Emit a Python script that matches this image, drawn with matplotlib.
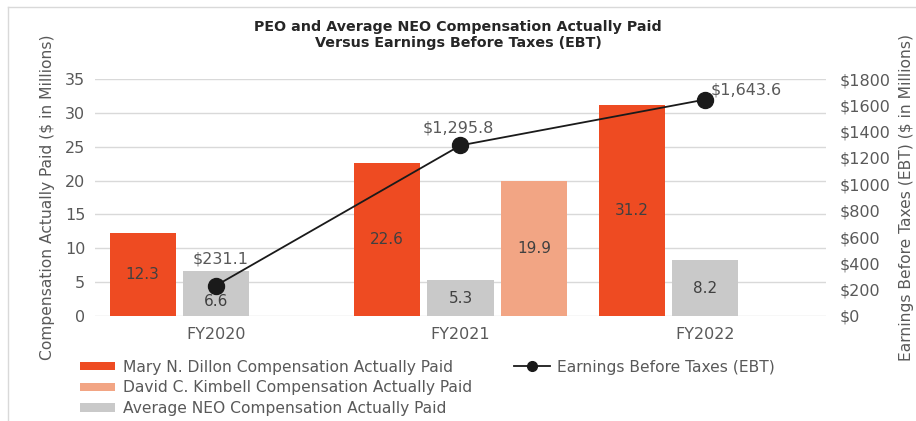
import matplotlib
matplotlib.use("Agg")
import matplotlib.pyplot as plt
from matplotlib.lines import Line2D
from matplotlib.patches import Patch
import numpy as np

plt.rcParams['font.family'] = ['DejaVu Sans']

years = ['FY2020', 'FY2021', 'FY2022']
mary = [12.3, 22.6, 31.2]
avg_neo = [6.6, 5.3, 8.2]
david_years = ['FY2021']
david = [19.9]
ebt = [231.1, 1295.8, 1643.6]
ebt_labels = ['$231.1', '$1,295.8', '$1,643.6']

c_mary = '#EE4B22'
c_david = '#F2A584'
c_avg = '#C9C9C9'
grey_txt = '#595959'

fig = plt.figure(figsize=(9.16, 4.21), dpi=100)
ax = fig.add_axes([95/916, 1 - 316/421, (826 - 95)/916, (316 - 79)/421])
ax2 = ax.twinx()

x = np.arange(len(years))
off = 0.30
w = 0.27
xd = np.array([years.index(y) for y in david_years])

b1 = ax.bar(x - off, mary, w, color=c_mary, zorder=2)
b2 = ax.bar(x, avg_neo, w, color=c_avg, zorder=2)
b3 = ax.bar(xd + off, david, w, color=c_david, zorder=2)

for bars in (b1, b2, b3):
    lbls = ax.bar_label(bars, fmt='%.1f', label_type='center', fontsize=11, color='#404040')
    if bars is b2:
        # first grey label sits below the EBT marker
        lbls[0].set_va('top')

ax.set_xlim(-0.495, 2.495)
ax.set_ylim(0, 35)
ax.set_yticks(range(0, 36, 5))
ax.set_xticks(x)
ax.set_xticklabels(years)
ax.grid(axis='y', color='#D9D9D9', linewidth=1, zorder=0)
ax.set_axisbelow(True)

ax2.plot(x, ebt, color='#1a1a1a', linewidth=1.3, marker='o', markersize=11.5, zorder=3)
ax2.set_ylim(0, 1800)
ax2.set_yticks(range(0, 1801, 200))
ax2.set_yticklabels(['$%d' % v for v in range(0, 1801, 200)])

offsets = [(3.6, 19.4), (-1.4, 12.2), (29.5, 7.2)]
for xi, yv, lb, o in zip(x, ebt, ebt_labels, offsets):
    ax2.annotate(lb, (xi, yv), xytext=o, textcoords='offset points',
                 ha='center', va='center', fontsize=11.5, color=grey_txt)

for a in (ax, ax2):
    for s in a.spines.values():
        s.set_visible(False)
    a.tick_params(length=0, labelsize=11.5, labelcolor=grey_txt)
ax.tick_params(axis='y', pad=7)
ax.tick_params(axis='x', pad=8)
ax2.tick_params(axis='y', pad=10)

ax.set_ylabel('Compensation Actually Paid ($ in Millions)', fontsize=11.2, color=grey_txt, labelpad=7)
ax2.set_ylabel('Earnings Before Taxes (EBT) ($ in Millions)', fontsize=11.2, color=grey_txt, labelpad=6)

fig.text(0.5, 1 - 35/421, 'PEO and Average NEO Compensation Actually Paid\nVersus Earnings Before Taxes (EBT)',
         ha='center', va='center', fontsize=10.3, fontweight='bold', color='#262626', linespacing=1.25)

bar_handles = [Patch(facecolor=c_mary, edgecolor='none'),
               Patch(facecolor=c_david, edgecolor='none'),
               Patch(facecolor=c_avg, edgecolor='none')]
bar_names = ['Mary N. Dillon Compensation Actually Paid',
             'David C. Kimbell Compensation Actually Paid',
             'Average NEO Compensation Actually Paid']
fig.legend(bar_handles, bar_names, loc='upper left', bbox_to_anchor=(72/916, 1 - 352/421),
           frameon=False, fontsize=11.2, labelcolor=grey_txt, handlelength=2.25,
           handleheight=0.45, labelspacing=0.36, handletextpad=0.5, borderpad=0)
line_handle = Line2D([], [], color='#1a1a1a', marker='o', markersize=7, linewidth=1.3)
fig.legend([line_handle], ['Earnings Before Taxes (EBT)'], loc='upper left',
           bbox_to_anchor=(506/916, 1 - 352/421), frameon=False, fontsize=11.2,
           labelcolor=grey_txt, handlelength=2.35, handletextpad=0.45, borderpad=0)

fig.add_artist(Line2D([8/916, 1], [1 - 7/421, 1 - 7/421], color='#D9D9D9', linewidth=1))
fig.add_artist(Line2D([8/916, 8/916], [0, 1 - 7/421], color='#D9D9D9', linewidth=1))

fig.savefig('out.png', dpi=100)
